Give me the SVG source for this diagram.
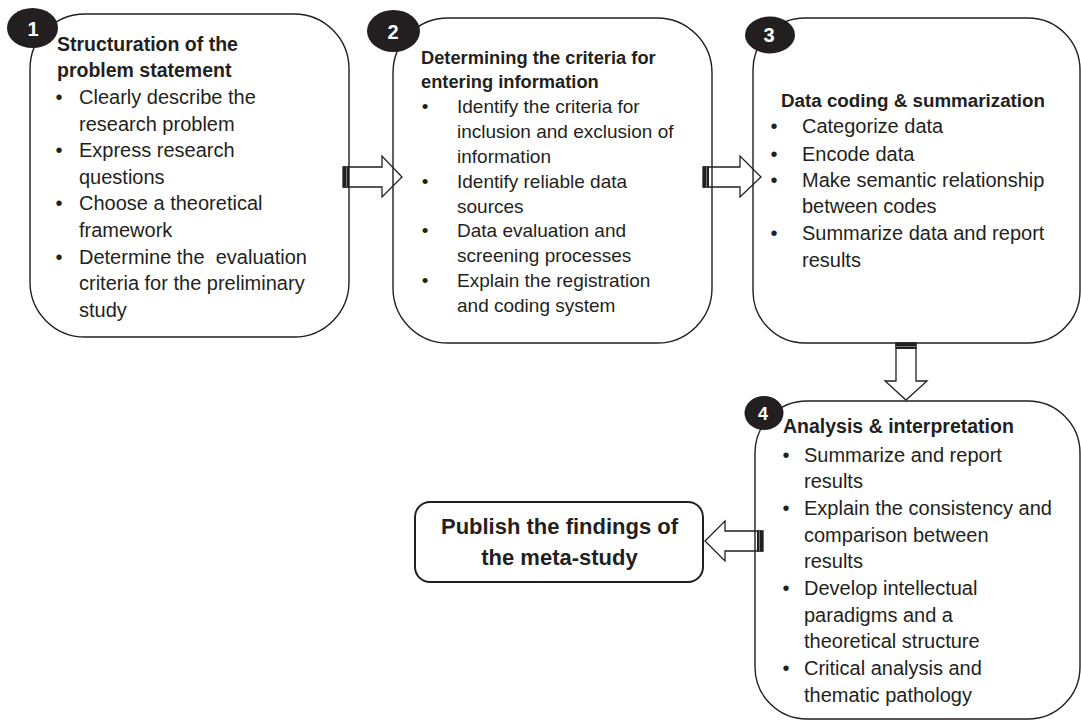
<svg xmlns="http://www.w3.org/2000/svg" width="1081" height="722" viewBox="0 0 1081 722">
<style>
.box{fill:#fff;stroke:#231f20;stroke-width:1.4}
.pub{fill:#fff;stroke:#231f20;stroke-width:2}
.badge{fill:#231f20}
.num{font-family:"Liberation Sans",Arial,sans-serif;font-weight:bold;font-size:20px;fill:#fff;text-anchor:middle}
.t{font-family:"Liberation Sans",Arial,sans-serif;font-size:20px;fill:#231f20;white-space:pre}
.t2{font-family:"Liberation Sans",Arial,sans-serif;font-size:19px;fill:#231f20}
.h{font-family:"Liberation Sans",Arial,sans-serif;font-weight:bold;font-size:19.5px;fill:#231f20}
.b{text-anchor:middle}
.arrow{fill:none;stroke:#231f20;stroke-width:1.3;stroke-linejoin:miter}
.tail{fill:#231f20}
.pubt{font-family:"Liberation Sans",Arial,sans-serif;font-weight:bold;font-size:22px;fill:#231f20;text-anchor:middle}
</style>

<g id="node1">
<rect class="box" x="30" y="14" width="319" height="323" rx="55" ry="55"/>
<ellipse class="badge" cx="32.5" cy="28" rx="25.5" ry="20"/>
<text class="num" x="33" y="36">1</text>
<text class="h" x="57" y="51">Structuration of the</text>
<text class="h" x="57" y="77">problem statement</text>
<text class="t b" x="59" y="104">•</text><text class="t" x="79" y="104">Clearly describe the</text>
<text class="t" x="79" y="131">research problem</text>
<text class="t b" x="59" y="157">•</text><text class="t" x="79" y="157">Express research</text>
<text class="t" x="79" y="184">questions</text>
<text class="t b" x="59" y="210">•</text><text class="t" x="79" y="210">Choose a theoretical</text>
<text class="t" x="79" y="237">framework</text>
<text class="t b" x="59" y="264">•</text><text class="t" x="79" y="264" xml:space="preserve">Determine the  evaluation</text>
<text class="t" x="79" y="290">criteria for the preliminary</text>
<text class="t" x="79" y="317">study</text>
</g>

<g id="node2">
<rect class="box" x="393" y="18" width="319" height="325" rx="55" ry="55"/>
<ellipse class="badge" cx="393.5" cy="31" rx="26.5" ry="21"/>
<text class="num" x="393" y="39">2</text>
<text class="h" x="421" y="64" style="font-size:18.3px">Determining the criteria for</text>
<text class="h" x="421" y="88" style="font-size:18.3px">entering information</text>
<text class="t2 b" x="425" y="113">•</text><text class="t2" x="457" y="113">Identify the criteria for</text>
<text class="t2" x="457" y="138">inclusion and exclusion of</text>
<text class="t2" x="457" y="163">information</text>
<text class="t2 b" x="425" y="188">•</text><text class="t2" x="457" y="188">Identify reliable data</text>
<text class="t2" x="457" y="213">sources</text>
<text class="t2 b" x="425" y="237">•</text><text class="t2" x="457" y="237">Data evaluation and</text>
<text class="t2" x="457" y="262">screening processes</text>
<text class="t2 b" x="425" y="287">•</text><text class="t2" x="457" y="287">Explain the registration</text>
<text class="t2" x="457" y="312">and coding system</text>
</g>

<g id="node3">
<rect class="box" x="753" y="18" width="327" height="325" rx="52" ry="52"/>
<ellipse class="badge" cx="770" cy="35" rx="25" ry="18.5"/>
<text class="num" x="769" y="42">3</text>
<text class="h" x="781" y="107" style="font-size:18.8px">Data coding &amp; summarization</text>
<text class="t b" x="774" y="133">•</text><text class="t" x="802" y="133">Categorize data</text>
<text class="t b" x="774" y="161">•</text><text class="t" x="802" y="161">Encode data</text>
<text class="t b" x="774" y="187">•</text><text class="t" x="802" y="187">Make semantic relationship</text>
<text class="t" x="802" y="213">between codes</text>
<text class="t b" x="774" y="240">•</text><text class="t" x="802" y="240">Summarize data and report</text>
<text class="t" x="802" y="267">results</text>
</g>

<g id="node4">
<rect class="box" x="755" y="401" width="325" height="318" rx="52" ry="52"/>
<ellipse class="badge" cx="764" cy="413" rx="19.5" ry="17"/>
<text class="num" x="763" y="420" style="font-size:18px">4</text>
<text class="h" x="783" y="433">Analysis &amp; interpretation</text>
<text class="t b" x="786" y="462">•</text><text class="t" x="804" y="462">Summarize and report</text>
<text class="t" x="804" y="488">results</text>
<text class="t b" x="786" y="515">•</text><text class="t" x="804" y="515">Explain the consistency and</text>
<text class="t" x="804" y="542">comparison between</text>
<text class="t" x="804" y="568">results</text>
<text class="t b" x="786" y="595">•</text><text class="t" x="804" y="595">Develop intellectual</text>
<text class="t" x="804" y="622">paradigms and a</text>
<text class="t" x="804" y="648">theoretical structure</text>
<text class="t b" x="786" y="675">•</text><text class="t" x="804" y="675">Critical analysis and</text>
<text class="t" x="804" y="702">thematic pathology</text>
</g>

<g id="node5">
<rect class="pub" x="415" y="502" width="288" height="80" rx="15" ry="15"/>
<text class="pubt" x="559.5" y="534">Publish the findings of</text>
<text class="pubt" x="559.5" y="565">the meta-study</text>
</g>

<g id="connectors">
<polygon class="arrow" points="343,167 382,167 382,156 402,177 382,197 382,187 343,187"/>
<rect class="tail" x="343" y="166.5" width="6" height="21"/>
<line x1="346.5" y1="167" x2="346.5" y2="187" stroke="#777" stroke-width="1"/>

<polygon class="arrow" points="703,167 740,167 740,156 761,177 740,197 740,187 703,187"/>
<rect class="tail" x="703" y="166.5" width="6" height="21"/>
<line x1="706.5" y1="167" x2="706.5" y2="187" stroke="#777" stroke-width="1"/>

<polygon class="arrow" points="896,343 916,343 916,381 927,381 906,400 885,381 896,381"/>
<rect class="tail" x="895.5" y="343" width="21" height="6"/>
<line x1="896" y1="346.5" x2="916" y2="346.5" stroke="#777" stroke-width="1"/>

<polygon class="arrow" points="763,531 725,531 725,521 705,541 725,561 725,551 763,551"/>
<rect class="tail" x="757" y="530.5" width="6" height="21"/>
<line x1="759.5" y1="531" x2="759.5" y2="551" stroke="#777" stroke-width="1"/>
</g>
</svg>
